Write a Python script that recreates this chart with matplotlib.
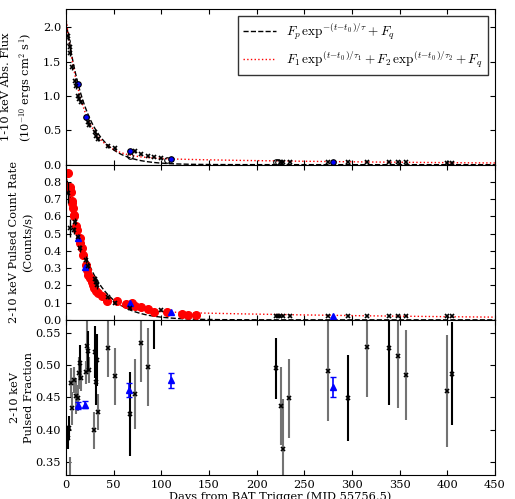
import numpy as np
import matplotlib
matplotlib.use('Agg')
import matplotlib.pyplot as plt

plt.rcParams['font.family'] = 'DejaVu Serif'
plt.rcParams['mathtext.fontset'] = 'cm'
plt.rcParams['font.size'] = 8.2
plt.rcParams['xtick.direction'] = 'in'
plt.rcParams['ytick.direction'] = 'in'
plt.rcParams['xtick.top'] = True
plt.rcParams['ytick.right'] = True

# --- top panel: absorbed flux (1e-10 erg/cm2/s) ---
flux_days = [2.1, 3.8, 4.5, 6.3, 9.4, 10.5, 12.5, 13.9, 15.3, 22.7, 24.0, 30.4,
             31.8, 33.2, 44, 51, 72.6, 79, 85.6, 92.6, 100, 226, 228, 235, 275,
             296, 316, 339, 348, 357, 400, 405]
flux_vals = [1.87, 1.71, 1.63, 1.42, 1.22, 1.14, 1.00, 0.955, 0.907, 0.626, 0.58,
             0.47, 0.42, 0.374, 0.266, 0.237, 0.194, 0.156, 0.131, 0.116, 0.097,
             0.045, 0.045, 0.044, 0.042, 0.040, 0.040, 0.037, 0.036, 0.034, 0.030,
             0.030]
flux_errs = [0.06, 0.05, 0.05, 0.04, 0.04, 0.04, 0.04, 0.03, 0.03, 0.03, 0.03, 0.03,
             0.03, 0.03, 0.02, 0.02, 0.02, 0.01, 0.01, 0.01, 0.01, 0.005, 0.005, 0.005,
             0.005, 0.005, 0.005, 0.005, 0.005, 0.005, 0.005, 0.005]
flux_open_days = [1.0, 66.7, 106, 220, 222.5]
flux_open_vals = [1.80, 0.13, 0.068, 0.045, 0.045]
flux_blue_days = [12.2, 21.3, 66.7, 110.4, 280]
flux_blue_vals = [1.175, 0.70, 0.194, 0.087, 0.045]

# --- middle panel: pulsed count rate ---
rate_red_days = [2.1, 3.8, 4.5, 5.2, 5.9, 6.6, 7.3, 8.0, 8.7, 10.8, 11.5, 14.3, 15.0,
                 16.4, 17.8, 21.3, 22.0, 23.4, 24.8, 26.9, 28.3, 29.7, 31.4, 33.2,
                 37.7, 43, 53.5, 63.2, 69.5, 72.6, 79, 85.6, 92.6, 106, 121.6, 128.5,
                 136.6]
rate_red_vals = [0.853, 0.77, 0.756, 0.742, 0.688, 0.678, 0.649, 0.61, 0.60, 0.542,
                 0.523, 0.475, 0.446, 0.417, 0.378, 0.32, 0.29, 0.262, 0.242, 0.217,
                 0.203, 0.184, 0.169, 0.155, 0.14, 0.112, 0.112, 0.093, 0.10, 0.083,
                 0.072, 0.062, 0.048, 0.045, 0.035, 0.027, 0.029]
rate_x_days = [2.1, 4.5, 9.0, 9.7, 12.5, 15.0, 21.3, 22.7, 30.7, 31.4, 32.5, 43.7, 51,
               67.7, 100, 220, 222.5, 225, 228, 235, 275, 296, 316, 339, 348, 357,
               400, 405]
rate_x_vals = [0.737, 0.533, 0.52, 0.57, 0.48, 0.415, 0.35, 0.315, 0.235, 0.22, 0.20,
               0.13, 0.10, 0.07, 0.055, 0.024, 0.024, 0.022, 0.024, 0.023, 0.024,
               0.023, 0.024, 0.023, 0.023, 0.023, 0.022, 0.022]
rate_x_errs = [0.06, 0.05, 0.02, 0.02, 0.02, 0.02, 0.02, 0.02, 0.02, 0.02, 0.02, 0.01,
               0.01, 0.01, 0.005, 0.003, 0.003, 0.003, 0.003, 0.003, 0.003, 0.003,
               0.003, 0.003, 0.003, 0.003, 0.003, 0.003]
rate_blue_days = [12.2, 20.2, 66.7, 110, 280]
rate_blue_vals = [0.475, 0.306, 0.097, 0.048, 0.022]

# --- bottom panel: pulsed fraction ---
pf_k_days = [2.1, 2.8, 14.3, 23.4, 30.7, 31.4, 32.5, 67.7, 92.6, 220, 296, 339, 405]
pf_k_vals = [0.388, 0.403, 0.5036, 0.522, 0.520, 0.474, 0.508, 0.425, 0.60, 0.495,
             0.449, 0.527, 0.487]
pf_k_errs = [0.018, 0.018, 0.027, 0.03, 0.04, 0.035, 0.04, 0.065, 0.075, 0.047,
             0.067, 0.088, 0.08]
pf_g_days = [4.7, 5.2, 6.3, 8.7, 10.1, 12.2, 13.2, 15.3, 21.3, 22.3, 24.4, 29.7,
             33.5, 44, 51, 72.6, 78.9, 85.6, 226, 228, 234, 275, 316, 348, 357, 400]
pf_g_vals = [0.29, 0.473, 0.433, 0.477, 0.452, 0.4485, 0.488, 0.480, 0.489, 0.530,
             0.493, 0.399, 0.428, 0.527, 0.483, 0.455, 0.5335, 0.4975, 0.437, 0.370,
             0.449, 0.491, 0.528, 0.514, 0.485, 0.460]
pf_g_errs = [0.068, 0.022, 0.025, 0.02, 0.028, 0.02, 0.025, 0.02, 0.018, 0.04,
             0.02, 0.028, 0.028, 0.046, 0.044, 0.054, 0.06, 0.06, 0.06, 0.077,
             0.061, 0.077, 0.078, 0.081, 0.07, 0.086]
pf_blue_days = [12.2, 20.2, 65.7, 110, 280]
pf_blue_vals = [0.4376, 0.439, 0.4613, 0.4763, 0.466]
pf_blue_errs = [0.006, 0.005, 0.011, 0.012, 0.016]

# fit parameters (single and double exponential decay)
flux_single = (2.1, 22.0, 0.0)
flux_double = (2.03, 17.8, 0.117, 290.0, 0.0)
rate_single = (0.85, 25.0, 0.0)
rate_double = (0.80, 18.0, 0.06, 337.0, 0.0)


def single_exp(t, p):
    return p[0] * np.exp(-t / p[1]) + p[2]


def double_exp(t, p):
    return p[0] * np.exp(-t / p[1]) + p[2] * np.exp(-t / p[3]) + p[4]


t = np.linspace(0, 450, 900)

fig, (ax1, ax2, ax3) = plt.subplots(3, 1, sharex=True, figsize=(5.15, 4.99), dpi=100)
fig.subplots_adjust(left=0.128, right=0.961, top=0.981, bottom=0.048, hspace=0)

# top
ax1.plot(t, single_exp(t, flux_single), 'k--', lw=1,
         label=r'$F_p\,\exp^{-(t-t_0)/\tau}+F_q$')
ax1.plot(t, double_exp(t, flux_double), 'r:', lw=1,
         label=r'$F_1\,\exp^{(t-t_0)/\tau_1}+F_2\,\exp^{(t-t_0)/\tau_2}+F_q$')
ax1.errorbar(flux_days, flux_vals, yerr=flux_errs, fmt='x', color='k', ms=3.5,
             mew=1.2, ecolor='k', elinewidth=1)
ax1.plot(flux_open_days, flux_open_vals, 'o', mfc='none', mec='k', ms=4, mew=0.8)
ax1.plot(flux_blue_days, flux_blue_vals, 'o', color='b', mec='k', ms=4, mew=0.8)
ax1.set_ylim(0, 2.26)
ax1.set_yticks([0.0, 0.5, 1.0, 1.5, 2.0])
ax1.set_ylabel('1-10 keV Abs. Flux\n(10$^{-10}$ ergs cm$^{2}$ s$^{1}$)', linespacing=1.5)
ax1.legend(loc='upper right', fontsize=9.5, handlelength=2.5, borderaxespad=0.5,
           fancybox=False, edgecolor='k')

# middle
ax2.plot(t, single_exp(t, rate_single), 'k--', lw=1)
ax2.plot(t, double_exp(t, rate_double), 'r:', lw=1)
ax2.plot(rate_red_days, rate_red_vals, 'o', color='r', mec='r', ms=5.5)
ax2.errorbar(rate_x_days, rate_x_vals, yerr=rate_x_errs, fmt='x', color='k', ms=3.5,
             mew=1.2, ecolor='k', elinewidth=1)
ax2.plot(rate_blue_days, rate_blue_vals, '^', color='b', mec='b', ms=5)
ax2.set_ylim(0, 0.9)
ax2.set_yticks(np.arange(0, 0.85, 0.1))
ax2.set_ylabel('2-10 keV Pulsed Count Rate\n(Counts/s)', linespacing=1.5)

# bottom
ax3.errorbar(pf_g_days, pf_g_vals, yerr=pf_g_errs, fmt='x', color='k', ms=3.5,
             mew=1.2, ecolor='0.45', elinewidth=1.5)
ax3.errorbar(pf_k_days, pf_k_vals, yerr=pf_k_errs, fmt='x', color='k', ms=3.5,
             mew=1.2, ecolor='k', elinewidth=1.5)
ax3.errorbar(pf_blue_days, pf_blue_vals, yerr=pf_blue_errs, fmt='^', color='b',
             ms=5, ecolor='b', elinewidth=1.2, capsize=2)
ax3.set_ylim(0.33, 0.57)
ax3.set_yticks([0.35, 0.40, 0.45, 0.50, 0.55])
ax3.set_ylabel('2-10 keV\nPulsed Fraction', linespacing=1.5)
ax3.set_xlim(0, 450)
ax3.set_xlabel('Days from BAT Trigger (MJD 55756.5)', labelpad=1)

for ax in (ax1, ax2, ax3):
    ax.yaxis.set_label_coords(-0.075, 0.5)

fig.savefig('out.png', dpi=100)
